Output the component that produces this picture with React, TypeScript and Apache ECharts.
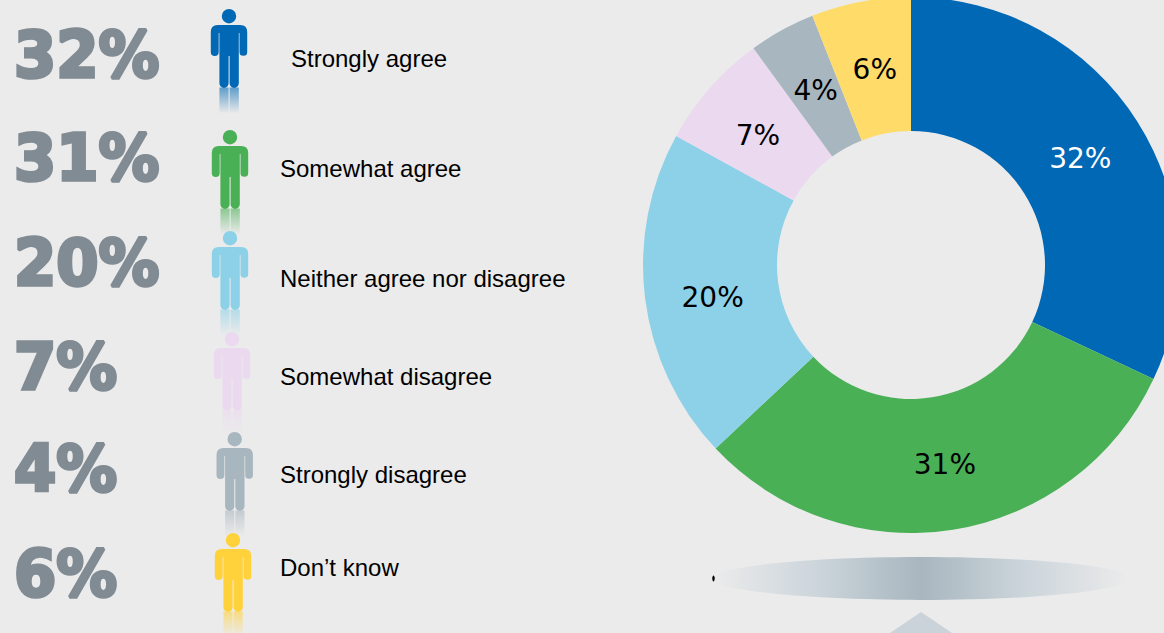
import React, { useEffect, useRef } from "react";
import * as echarts from "echarts";

const categories = [
  "Strongly agree",
  "Somewhat agree",
  "Neither agree nor disagree",
  "Somewhat disagree",
  "Strongly disagree",
  "Don’t know",
];
const shares = [32, 31, 20, 7, 4, 6];
const sliceColors = ["#0068b4", "#4ab056", "#8dd1e8", "#ebd9f0", "#a8b6bf", "#ffdb6a"];
const figureColors = ["#0068b4", "#4ab056", "#8dd1e8", "#ebd9f0", "#a8b6bf", "#ffd23c"];
const sliceLabelColors = ["#ffffff", "#000000", "#000000", "#000000", "#000000", "#000000"];

// Row layout for the left-hand key: figure anchor, big figure centre line, caption anchor.
const figureX = [229, 230, 230, 232, 234.7, 233];
const figureTop = [9, 130, 231, 332, 432, 533];
const bigCenterY = [55, 158, 263, 367, 469, 574];
const captionX = [291, 280, 280, 280, 280, 280];
const captionY = [58.5, 168.5, 278.5, 376.5, 474.5, 567.5];

// Small nudges that keep the ring labels clear of the slice edges.
const labelDx = [-3, 2, 4, 0, 3, 2];
const labelDy = [3, -2, 7, 5, 4, 5];

const BG = "#ebebeb";
const GREY_TEXT = "#818b93";

const PERSON =
  "M25.4,7.2 A7.2,7.2 0 1 1 11,7.2 A7.2,7.2 0 1 1 25.4,7.2 Z " +
  "M7,16 L29.4,16 Q36.4,16 36.4,23 L36.4,43 A3.85,3.85 0 0 1 28.7,43 L28.7,24 L28,24 " +
  "L28,74.3 A4.6,4.6 0 0 1 18.8,74.3 L18.8,47 L17.8,47 L17.8,74.3 A4.6,4.6 0 0 1 8.6,74.3 L8.6,24 " +
  "L7.9,24 L7.9,43 A3.95,3.95 0 0 1 0,43 L0,23 Q0,16 7,16 Z";
const PERSON_LEGS = "M8.6,0 L17.8,0 L17.8,26 L8.6,26 Z M18.8,0 L28,0 L28,26 L18.8,26 Z";

echarts.graphic.registerShape("person", echarts.graphic.extendPath(PERSON, {}));
echarts.graphic.registerShape("personLegs", echarts.graphic.extendPath(PERSON_LEGS, {}));

function fade(hex: string) {
  const r = parseInt(hex.slice(1, 3), 16);
  const g = parseInt(hex.slice(3, 5), 16);
  const b = parseInt(hex.slice(5, 7), 16);
  return {
    type: "linear",
    x: 0,
    y: 0,
    x2: 0,
    y2: 1,
    colorStops: [
      { offset: 0, color: `rgba(${r},${g},${b},0.6)` },
      { offset: 1, color: `rgba(${r},${g},${b},0)` },
    ],
  };
}

export default function App() {
  const ref = useRef<HTMLDivElement>(null);

  useEffect(() => {
    const chart = echarts.init(ref.current!, null, { renderer: "svg" });

    const reflections = categories.map((_, i) => ({
      type: "personLegs",
      x: figureX[i] - 18.2,
      y: figureTop[i] + 78.5,
      silent: true,
      z: 1,
      style: { fill: fade(figureColors[i]) },
    }));
    const figures = categories.map((_, i) => ({
      type: "person",
      x: figureX[i] - 18.2,
      y: figureTop[i],
      silent: true,
      z: 2,
      style: { fill: figureColors[i] },
    }));
    const bigNumbers = shares.map((v, i) => ({
      type: "text",
      x: 14,
      y: bigCenterY[i],
      scaleX: 0.95,
      silent: true,
      z: 3,
      style: {
        text: `${v}%`,
        fontFamily: "DejaVu Sans",
        fontWeight: "bold",
        fontSize: 64,
        fill: GREY_TEXT,
        stroke: GREY_TEXT,
        lineWidth: 3.5,
        textAlign: "left",
        verticalAlign: "middle",
      },
    }));
    const captions = categories.map((name, i) => ({
      type: "text",
      x: captionX[i],
      y: captionY[i],
      silent: true,
      z: 3,
      style: {
        text: name,
        fontFamily: "Liberation Sans",
        fontSize: 24,
        fill: "#000000",
        textAlign: "left",
        verticalAlign: "middle",
      },
    }));

    chart.setOption({
      animation: false,
      backgroundColor: BG,
      series: [
        {
          type: "pie",
          center: [911, 265],
          radius: [134, 268],
          startAngle: 90,
          clockwise: true,
          silent: true,
          avoidLabelOverlap: false,
          data: categories.map((name, i) => ({
            name,
            value: shares[i],
            itemStyle: { color: sliceColors[i] },
            label: { color: sliceLabelColors[i] },
          })),
          label: {
            show: true,
            position: "inside",
            formatter: "{c}%",
            fontFamily: "DejaVu Sans",
            fontSize: 28,
          },
          labelLine: { show: false },
          labelLayout: (p: { dataIndex: number }) => ({
            dx: labelDx[p.dataIndex],
            dy: labelDy[p.dataIndex],
          }),
        },
      ],
      graphic: {
        elements: [
          ...reflections,
          ...figures,
          ...bigNumbers,
          ...captions,
          // Pedestal under the ring
          {
            type: "ellipse",
            shape: { cx: 921, cy: 578.5, rx: 208, ry: 21.5 },
            silent: true,
            style: {
              fill: {
                type: "linear",
                x: 0,
                y: 0,
                x2: 1,
                y2: 0,
                colorStops: [
                  { offset: 0, color: BG },
                  { offset: 0.25, color: "#ccd5db" },
                  { offset: 0.5, color: "#a8b6bf" },
                  { offset: 0.75, color: "#ccd5db" },
                  { offset: 1, color: BG },
                ],
              },
            },
          },
          {
            type: "ellipse",
            shape: { cx: 713.5, cy: 578.5, rx: 1.2, ry: 3 },
            silent: true,
            style: { fill: "#000000" },
          },
          {
            type: "polygon",
            shape: { points: [[921, 612], [890, 633], [952, 633]] },
            silent: true,
            style: { fill: "#cad3da" },
          },
        ],
      },
    });

    return () => chart.dispose();
  }, []);

  return (
    <div
      ref={ref}
      style={{ position: "absolute", left: 0, top: 0, width: 1164, height: 633 }}
    />
  );
}
